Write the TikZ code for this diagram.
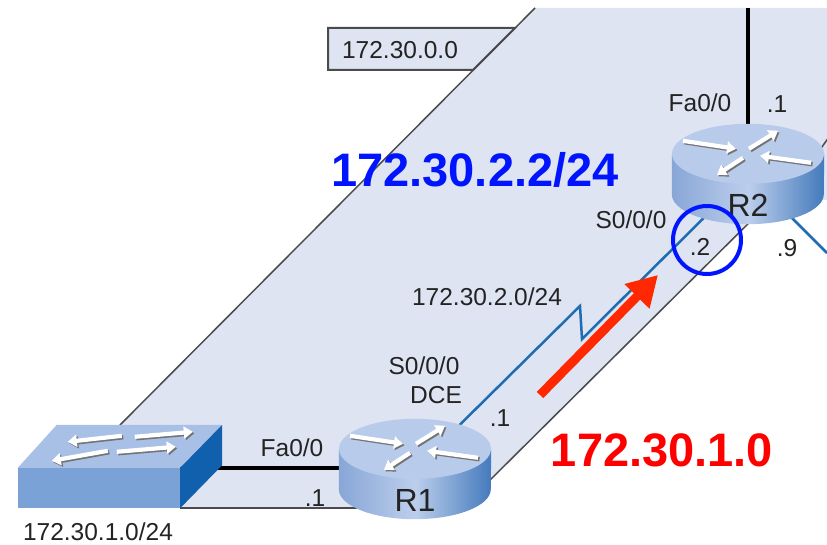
\documentclass[tikz,border=0pt]{standalone}
\usepackage{fontspec}
\setmainfont{Liberation Sans}
\usepackage{tikz}
\usetikzlibrary{shapes,arrows,arrows.meta}

\definecolor{netfill}{RGB}{222,228,242}
\definecolor{netgray}{RGB}{75,75,75}
\definecolor{txtgray}{RGB}{35,35,35}
\definecolor{serialblue}{RGB}{30,108,178}
\definecolor{rtop}{RGB}{184,203,234}
\definecolor{rleft}{RGB}{136,166,214}
\definecolor{rmid}{RGB}{188,206,236}
\definecolor{rright}{RGB}{68,122,188}
\definecolor{swtop}{RGB}{168,192,230}
\definecolor{swfront}{RGB}{122,162,214}
\definecolor{swside}{RGB}{16,96,174}
\definecolor{hlblue}{RGB}{0,20,255}
\definecolor{hlred}{RGB}{255,0,0}
\definecolor{arrred}{RGB}{255,40,0}

\tikzstyle{router} = [rectangle, minimum width=152pt, minimum height=100pt, inner sep=0pt]
\tikzstyle{swbox} = [rectangle, minimum width=162pt, minimum height=40pt, inner sep=0pt]
\tikzstyle{lbl} = [text=txtgray, font=\fontsize{24.5}{26}\selectfont, inner sep=0pt]
\tikzstyle{rname} = [text=txtgray, font=\fontsize{32}{34}\selectfont, inner sep=0pt]
\tikzstyle{bigblue} = [text=hlblue, font=\bfseries\fontsize{47}{50}\selectfont, inner sep=0pt]
\tikzstyle{bigred} = [text=hlred, font=\bfseries\fontsize{47}{50}\selectfont, inner sep=0pt]
\tikzstyle{lan} = [draw=black, line width=4pt]
\tikzstyle{serial} = [draw=serialblue, line width=2.5pt]
\tikzstyle{netline} = [draw=netgray, line width=1.5pt]
\tikzstyle{devarrow} = [line width=4.2pt, -{Triangle[length=9pt,width=12pt]}]

\begin{document}
\begin{tikzpicture}[x=1pt, y=-1pt]
		\useasboundingbox (0,0) rectangle (827,545);
		
		% devices
		\node [swbox] (sw) at (99,488) {};
		\node [router] (R1) at (415,469) {};
		\node [router] (R2) at (748,174) {};
		
		% network area
		\fill [netfill] (120,425) -- (535,8) -- (827,8) -- (827,200) -- (772,200) -- (490,480) -- (440,508) -- (183,508) -- cycle;
		\filldraw [fill=netfill, draw=netgray, line width=2pt] (328,28) -- (515,28) -- (473,70) -- (328,70) -- cycle;
		\node [lbl] (net0) at (400,50) {172.30.0.0};
		\draw [netline] (120,425) -- (535,8);
		\draw [netline] (480,490) -- (772,200);
		\draw [netline] (800,178) -- (829,137);
		\draw [netline] (sw.south east) -- (sw.south east -| R1.center);
		
		% links
		\coordinate (lanR2) at (748,8);
		\coordinate (zz1) at (580,306);
		\coordinate (zz2) at (582,339);
		\coordinate (s9) at (827,253);
		\draw [lan] (sw.north east) -- (sw.north east -| R1.center);
		\draw [lan] (lanR2) -- (R2.center);
		\draw [serial] (R1.center) -- (zz1) -- (zz2) -- (R2.center);
		\draw [serial] (R2.center) -- (s9);
		
		% switch
		\fill [swfront] (sw.north west) rectangle (sw.south east);
		\fill [swtop] (sw.north west) -- (sw.north east) -- ([shift={(42,-43)}]sw.north east) -- ([shift={(39,-43)}]sw.north west) -- cycle;
		\fill [swside] (sw.north east) -- ([shift={(42,-43)}]sw.north east) -- ([shift={(42,-43)}]sw.south east) -- (sw.south east) -- cycle;
		\foreach \c/\d in {black!55/1.5, white/0}
			\foreach \ax/\ay/\bx/\by in {104/-32/50/-26, 117/-31/175/-36, 90/-17/34/-7, 99/-16/158/-21}
				\draw [devarrow, color=\c] ([shift={(\ax+\d,\ay+\d)}]sw.north west) -- ([shift={(\bx+\d,\by+\d)}]sw.north west);
		
		% routers
		\foreach \r in {R1,R2} {
			\coordinate (\r-top) at ([yshift=-30pt]\r.north);
			\shade [left color=rleft, right color=rright, middle color=rmid]
				([yshift=-30pt]\r.north west) -- ([yshift=30pt]\r.south west)
				arc [start angle=180, end angle=360, x radius=76pt, y radius=30pt]
				-- ([yshift=-30pt]\r.north east) -- cycle;
			\fill [rtop] (\r-top) ellipse [x radius=76pt, y radius=30pt];
			\foreach \c/\d in {black!55/1.5, white/0}
				\foreach \ax/\ay/\bx/\by in {-65/-13/-12/-5, 63/9/12/2, 1/-5/30/-23, -5/4/-31/21}
					\draw [devarrow, color=\c] ([shift={(\ax+\d,\ay+\d)}]\r-top) -- ([shift={(\bx+\d,\by+\d)}]\r-top);
			\node [rname] (\r-name) at ([shift={(0,31)}]\r.center) {\r};
		}
		
		% interface labels
		\node [lbl] (fa2) at (700,103) {Fa0/0};
		\node [lbl] (ip2a) at (777,104) {.1};
		\node [lbl] (s2) at (631,220) {S0/0/0};
		\node [lbl] (ip2b) at (700,247) {.2};
		\node [lbl] (ip2c) at (787,248) {.9};
		\node [lbl] (net2) at (487,297) {172.30.2.0/24};
		\node [lbl] (s1) at (424,366) {S0/0/0};
		\node [lbl] (dce) at (436,395) {DCE};
		\node [lbl] (ip1b) at (500,418) {.1};
		\node [lbl] (fa1) at (292,448) {Fa0/0};
		\node [lbl] (ip1a) at (315,498) {.1};
		\node [lbl] (net1) at (98,532) {172.30.1.0/24};
		
		% highlights
		\node [bigblue] (ipR2) at (475,170) {172.30.2.2/24};
		\node [bigred] (netR1) at (662,450) {172.30.1.0};
		\node [draw=hlblue, line width=4pt, circle, minimum size=68pt, inner sep=0pt] (hl) at (707,240) {};
		\coordinate (rtail) at (540,395);
		\coordinate (rhead) at (658,275);
		\draw [arrred, line width=9pt, -{Triangle[length=30pt,width=33pt]}] (rtail) -- (rhead);
		
\end{tikzpicture}
\end{document}
